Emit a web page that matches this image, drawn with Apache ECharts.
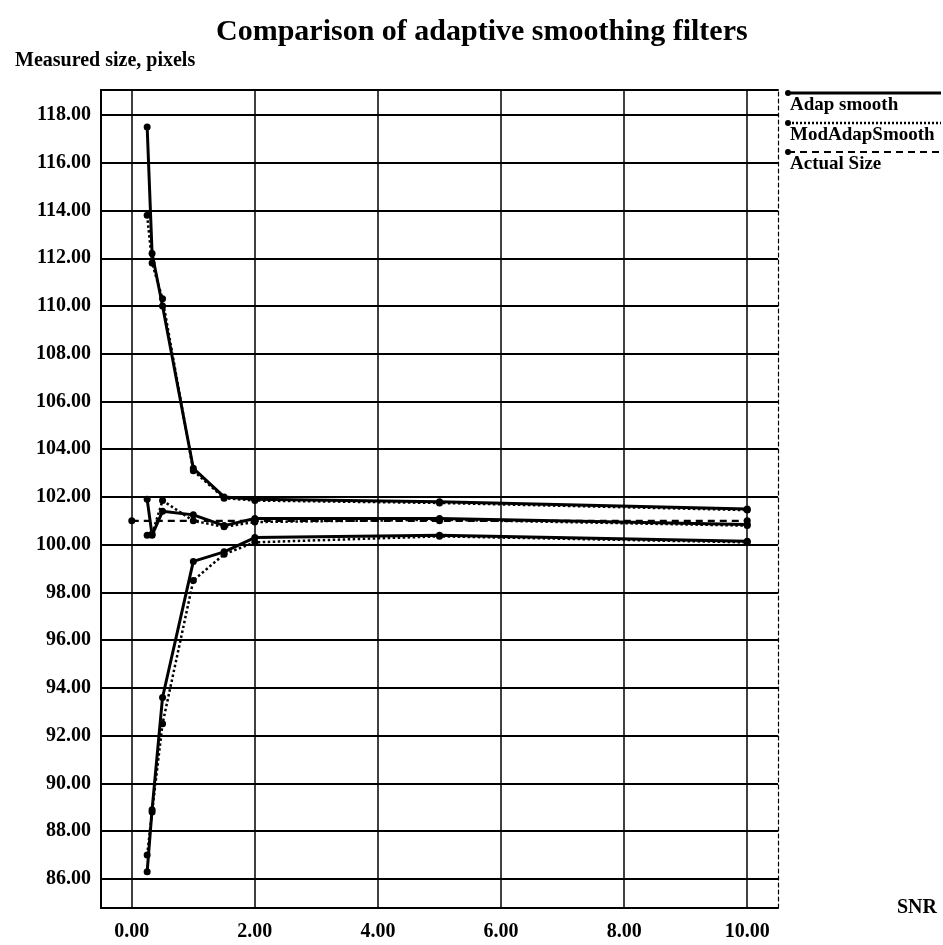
<!DOCTYPE html>
<html><head><meta charset="utf-8">
<script src="https://cdn.jsdelivr.net/npm/echarts@6/dist/echarts.min.js"></script>
<style>html,body{margin:0;padding:0;background:#fff}#c{width:943px;height:945px}</style>
</head><body><div id="c"></div>
<script>
const snr = [0.25, 0.33, 0.5, 1, 1.5, 2, 5, 10];
const adapUpper = [117.5, 112.2, 110.0, 103.2, 102.0, 101.9, 101.8, 101.5];
const modUpper  = [113.8, 111.8, 110.3, 103.1, 101.95, 101.85, 101.75, 101.45];
const adapMean  = [101.9, 100.4, 101.4, 101.25, 100.8, 101.1, 101.1, 100.85];
const modMean   = [100.4, 100.45, 101.85, 101.0, 100.75, 100.95, 101.05, 100.8];
const adapLower = [86.3, 88.9, 93.6, 99.3, 99.7, 100.3, 100.4, 100.15];
const modLower  = [87.0, 88.8, 92.5, 98.5, 99.6, 100.1, 100.35, 100.1];
const actualX = [0, 2, 5, 10];
const actualY = [101, 101, 101, 101];
const xTicks = [0, 2, 4, 6, 8, 10];
const yTicks = [86, 88, 90, 92, 94, 96, 98, 100, 102, 104, 106, 108, 110, 112, 114, 116, 118];
const legendNames = ['Adap smooth', 'ModAdapSmooth', 'Actual Size'];

const font = '"Liberation Serif", "Times New Roman", serif';
const pairs = (xs, ys) => xs.map((x, i) => [x, ys[i]]);
const lbl = {color: '#000', fontFamily: font, fontWeight: 'bold', fontSize: 20};

function lineSeries(name, xs, ys, type, width) {
  return {
    type: 'line', name: name, data: pairs(xs, ys),
    symbol: 'circle', symbolSize: 7, showAllSymbol: true,
    lineStyle: {color: '#000', width: width, type: type},
    itemStyle: {color: '#000'},
    emphasis: {disabled: true}, z: 3
  };
}

const chart = echarts.init(document.getElementById('c'));
const styles = [
  {type: 'solid', width: 3},
  {type: 'dotted', width: 2.5},
  {type: [7, 5], width: 2.2}
];
const legendY = [93, 123, 152];
const graphic = [];
legendNames.forEach((n, i) => {
  graphic.push({type: 'line', shape: {x1: 788, y1: legendY[i], x2: 941, y2: legendY[i]},
    style: {stroke: '#000', lineWidth: styles[i].width, lineDash: Array.isArray(styles[i].type) ? styles[i].type : (styles[i].type === 'dotted' ? [2, 2] : null)}});
  graphic.push({type: 'circle', shape: {cx: 788, cy: legendY[i], r: 3}, style: {fill: '#000'}});
  graphic.push({type: 'text', x: 790, y: legendY[i] + 12,
    style: {text: n, font: 'bold 19px ' + font, fill: '#000', verticalAlign: 'middle'}});
});

chart.setOption({
  animation: false,
  backgroundColor: '#fff',
  title: [
    {text: 'Comparison of adaptive smoothing filters', left: 211, top: 12,
     textStyle: {color: '#000', fontFamily: font, fontWeight: 'bold', fontSize: 30}},
    {text: 'Measured size, pixels', left: 10, top: 46,
     textStyle: {color: '#000', fontFamily: font, fontWeight: 'bold', fontSize: 20}}
  ],
  grid: {left: 101, right: 165, top: 90, bottom: 37, containLabel: false, outerBoundsMode: 'none'},
  xAxis: [
    {type: 'value', min: -0.5, max: 10.5, position: 'bottom',
     axisLine: {show: true, onZero: false, lineStyle: {color: '#000', width: 2}},
     axisTick: {show: false, customValues: xTicks},
     axisLabel: Object.assign({customValues: xTicks, margin: 14, formatter: v => v.toFixed(2)}, lbl),
     splitLine: {show: true, lineStyle: {color: '#000', width: 1.5}},
     name: 'SNR', nameLocation: 'end', nameGap: 119,
     nameTextStyle: Object.assign({padding: [12, 0, 0, 0]}, lbl)},
    {type: 'value', min: -0.5, max: 10.5, position: 'top',
     axisLine: {show: true, onZero: false, lineStyle: {color: '#000', width: 2}},
     axisTick: {show: false}, axisLabel: {show: false}, splitLine: {show: false}}
  ],
  yAxis: [
    {type: 'value', min: 84.78, max: 119.05, position: 'left',
     axisLine: {show: true, onZero: false, lineStyle: {color: '#000', width: 2}},
     axisTick: {show: false, customValues: yTicks},
     axisLabel: Object.assign({customValues: yTicks, margin: 10, formatter: v => v.toFixed(2)}, lbl),
     splitLine: {show: true, lineStyle: {color: '#000', width: 2}}},
    {type: 'value', min: 84.78, max: 119.05, position: 'right',
     axisLine: {show: true, onZero: false, lineStyle: {color: '#000', width: 1.2, type: [4, 3]}},
     axisTick: {show: false}, axisLabel: {show: false}, splitLine: {show: false}}
  ],
  graphic: graphic,
  series: [
    lineSeries(legendNames[0], snr, adapUpper, styles[0].type, styles[0].width),
    lineSeries(legendNames[0], snr, adapMean, styles[0].type, styles[0].width),
    lineSeries(legendNames[0], snr, adapLower, styles[0].type, styles[0].width),
    lineSeries(legendNames[1], snr, modUpper, styles[1].type, styles[1].width),
    lineSeries(legendNames[1], snr, modMean, styles[1].type, styles[1].width),
    lineSeries(legendNames[1], snr, modLower, styles[1].type, styles[1].width),
    lineSeries(legendNames[2], actualX, actualY, styles[2].type, styles[2].width)
  ]
});
</script></body></html>
